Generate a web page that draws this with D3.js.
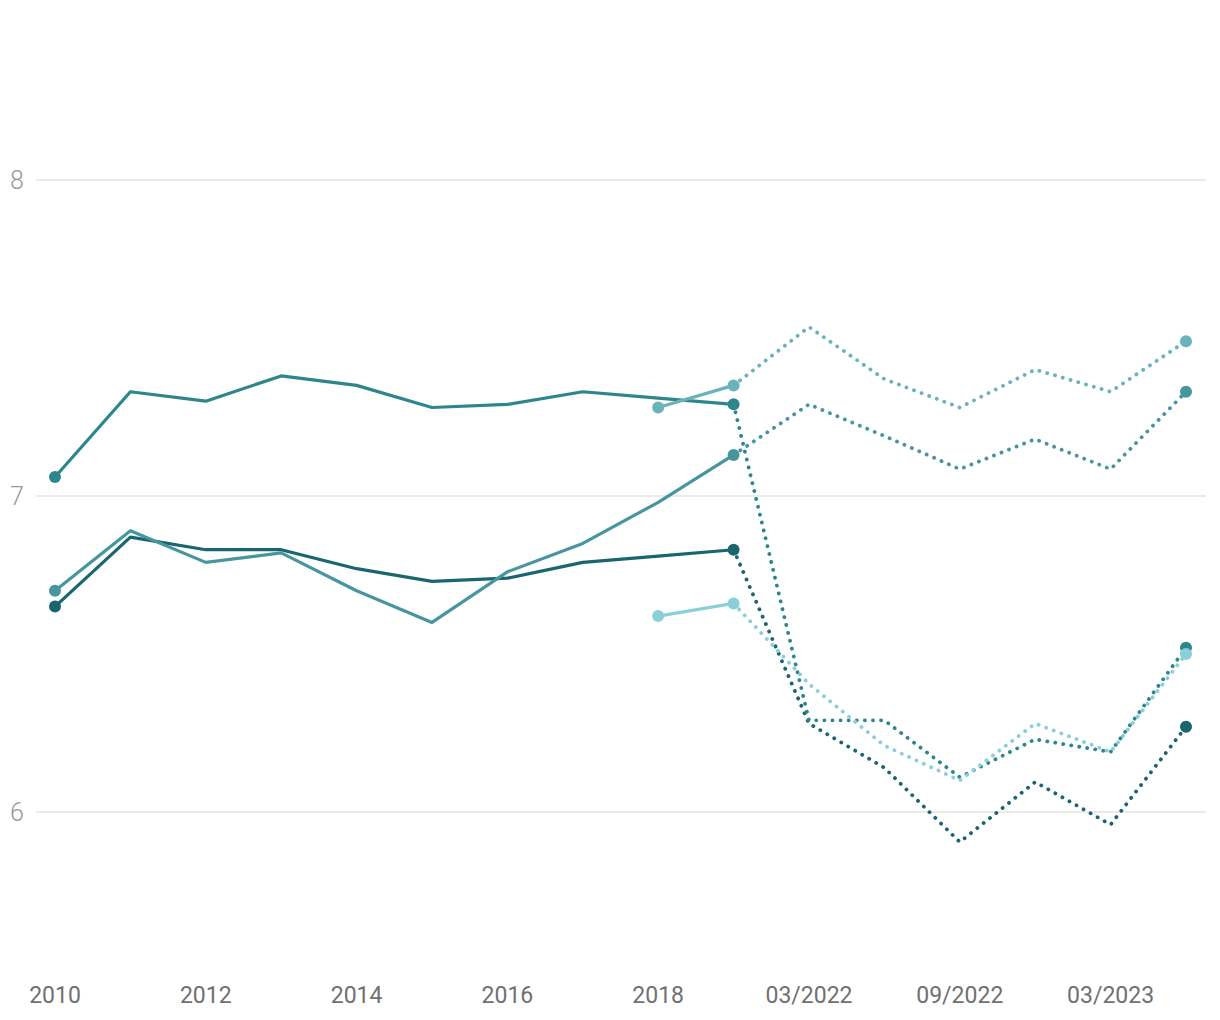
<!DOCTYPE html>
<html>
<head>
<meta charset="utf-8">
<script src="https://cdn.jsdelivr.net/npm/d3@7"></script>
<style>
  html, body { margin: 0; padding: 0; background: #fff; }
  svg { display: block; font-family: Roboto, "Noto Sans", sans-serif; }
</style>
</head>
<body>
<svg id="chart"></svg>
<script>
const categories = ["2010", "2011", "2012", "2013", "2014", "2015", "2016", "2017", "2018", "2019",
    "03/2022", "06/2022", "09/2022", "12/2022", "03/2023", "06/2023"];
const tickLabels = ["2010", "2012", "2014", "2016", "2018", "03/2022", "09/2022", "03/2023"];
const yTicks = [6, 7, 8];

// null = no value for that period
const seriesA = [7.06, 7.33, 7.30, 7.38, 7.35, 7.28, 7.29, 7.33, 7.31, 7.29,
    6.29, 6.29, 6.11, 6.23, 6.19, 6.52];
const seriesB = [6.65, 6.87, 6.83, 6.83, 6.77, 6.73, 6.74, 6.79, 6.81, 6.83,
    6.28, 6.14, 5.905, 6.095, 5.96, 6.27];
const seriesC = [6.70, 6.89, 6.79, 6.82, 6.70, 6.60, 6.76, 6.85, 6.98, 7.13,
    7.29, 7.19, 7.085, 7.18, 7.085, 7.33];
const seriesD = [null, null, null, null, null, null, null, null, 7.28, 7.35,
    7.535, 7.37, 7.28, 7.40, 7.33, 7.49];
const seriesE = [null, null, null, null, null, null, null, null, 6.62, 6.66,
    6.405, 6.21, 6.10, 6.28, 6.19, 6.50];

const seriesColors = ["#2e868d", "#19666f", "#47969f", "#6bb3bb", "#8bcfd8"];
const lastSolid = "2019";

const width = 1220, height = 1020;
const svg = d3.select("#chart").attr("width", width).attr("height", height);

const x = d3.scalePoint().domain(categories).range([55, 1186]);
const y = d3.scaleLinear().domain([5.5, 8.5]).range([970, 22]);

// gridlines
svg.append("g")
    .selectAll("line")
    .data(yTicks)
    .join("line")
    .attr("x1", 36)
    .attr("x2", 1206)
    .attr("y1", d => y(d))
    .attr("y2", d => y(d))
    .attr("stroke", "#e3e3e3")
    .attr("stroke-width", 1.5);

svg.append("g")
    .selectAll("text")
    .data(yTicks)
    .join("text")
    .attr("x", 17)
    .attr("y", d => y(d) + 9)
    .attr("text-anchor", "middle")
    .attr("font-size", 25)
    .attr("font-weight", 300)
    .attr("fill", "#999999")
    .text(d => d);

// x axis labels
svg.append("g")
    .selectAll("text")
    .data(tickLabels)
    .join("text")
    .attr("x", d => x(d))
    .attr("y", 1003)
    .attr("text-anchor", "middle")
    .attr("font-size", 23)
    .attr("fill", "#707070")
    .text(d => d);

const allSeries = [seriesA, seriesB, seriesC, seriesD, seriesE];
const cut = categories.indexOf(lastSolid);

const line = d3.line()
    .defined(d => d.v != null)
    .x(d => x(d.c))
    .y(d => y(d.v));

const drawOrder = [1, 0, 2, 3, 4];
drawOrder.forEach(si => {
    const vals = allSeries[si];
    const pts = categories.map((c, i) => ({ c, v: vals[i] }));
    const solid = pts.slice(0, cut + 1);
    const dotted = pts.slice(cut);
    const color = seriesColors[si];
    const g = svg.append("g");

    g.append("path")
        .attr("d", line(solid))
        .attr("fill", "none")
        .attr("stroke", color)
        .attr("stroke-width", 3.2)
        .attr("stroke-linejoin", "round");

    g.append("path")
        .attr("d", line(dotted))
        .attr("fill", "none")
        .attr("stroke", color)
        .attr("stroke-width", 3.8)
        .attr("stroke-linecap", "round")
        .attr("stroke-dasharray", "0.1,8");

    // markers: first and last of solid part, end of projection
    const valid = solid.filter(d => d.v != null);
    const marks = [valid[0], valid[valid.length - 1], dotted[dotted.length - 1]];
    g.selectAll("circle")
        .data(marks)
        .join("circle")
        .attr("cx", d => x(d.c))
        .attr("cy", d => y(d.v))
        .attr("r", 6)
        .attr("fill", color);
});
</script>
</body>
</html>
